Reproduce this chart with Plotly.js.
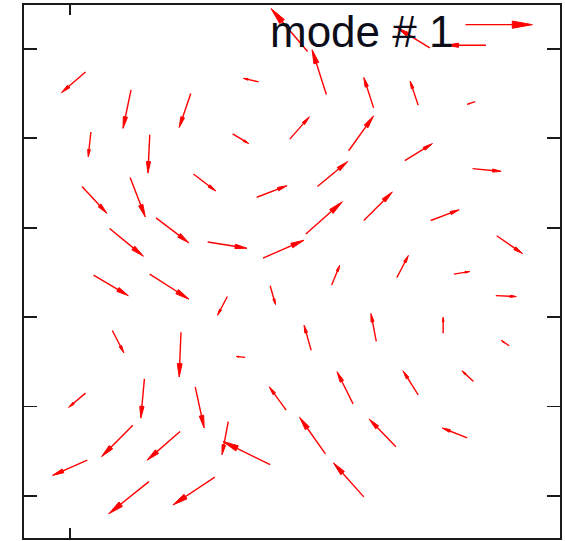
<!DOCTYPE html>
<html>
<head>
<meta charset="utf-8">
<script src="https://cdn.plot.ly/plotly-3.0.1.min.js"></script>
<style>
  html, body { margin: 0; padding: 0; background: #ffffff; }
  #chart { width: 565px; height: 541px; }
</style>
</head>
<body>
<div id="chart"></div>
<script>
// Vector field of mode 1: arrow tails (xs, ys) and components (us, vs)
const xs = [0.17, 0.68, 1.35, 2.11, 2.66, 2.87, 3.40, 3.90, 4.54, 4.03, 4.43, 4.66,
            0.23, 0.89, 1.82, 2.46, 3.12, 3.75, 4.51, 0.13, 0.67, 1.38, 2.09, 2.77,
            3.29, 2.64, 4.04, 4.78, 0.44, 0.96, 1.54, 2.16, 0.26, 0.89, 1.76, 2.24,
            2.93, 3.66, 4.30, 4.77, 0.47, 1.24, 1.96, 2.70, 3.43, 4.18, 4.92, 0.17,
            0.83, 1.40, 2.42, 3.17, 3.90, 4.52, 0.70, 1.23, 1.77, 2.24, 2.86, 3.65,
            4.45, 0.19, 0.88, 1.62, 3.29];
const ys = [4.74, 4.54, 4.50, 4.63, 4.97, 4.49, 4.34, 4.37, 4.41, 5.01, 5.27, 5.04,
            4.07, 4.04, 4.05, 3.99, 3.86, 3.75, 3.66, 3.46, 3.56, 3.60, 3.34, 3.46,
            3.08, 2.93, 3.08, 2.91, 2.99, 3.11, 2.84, 2.66, 2.47, 2.48, 2.23, 2.35,
            2.36, 2.44, 2.48, 2.24, 1.85, 1.83, 1.55, 1.63, 1.73, 1.82, 1.68, 1.15,
            1.31, 1.22, 0.96, 1.03, 1.13, 1.28, 0.79, 0.72, 0.83, 0.35, 0.47, 0.55,
            0.65, 0.40, 0.16, 0.21, -0.01];
const us = [-0.27, -0.09, -0.13, -0.17, -0.41, -0.16, -0.11, -0.09, -0.09, -0.36, 0.75, -0.44,
            -0.03, -0.02, 0.18, 0.22, 0.28, 0.31, 0.32, 0.28, 0.17, 0.25, 0.34, 0.34,
            0.32, 0.41, 0.32, 0.29, 0.38, 0.37, 0.44, 0.46, 0.39, 0.44, -0.11, 0.06,
            0.09, 0.13, 0.18, 0.23, 0.13, -0.02, -0.10, -0.08, -0.06, 0.00, -0.09, -0.19,
            -0.04, 0.10, -0.19, -0.18, -0.17, -0.13, -0.35, -0.37, -0.07, -0.53, -0.29, -0.30,
            -0.28, -0.39, -0.45, -0.47, -0.34];
const vs = [-0.23, -0.43, -0.38, 0.04, 0.48, 0.50, 0.34, 0.27, -0.03, 0.22, 0.00, 0.00,
            -0.28, -0.43, -0.11, 0.25, 0.39, 0.19, -0.03, -0.30, -0.44, -0.19, 0.13, 0.28,
            0.32, 0.36, 0.12, -0.20, -0.31, -0.28, -0.07, 0.20, -0.23, -0.28, -0.21, -0.21,
            0.22, 0.25, 0.03, -0.01, -0.25, -0.50, 0.01, 0.28, 0.31, 0.18, 0.06, -0.16,
            -0.44, -0.46, 0.26, 0.36, 0.27, 0.12, -0.35, -0.32, -0.37, 0.26, 0.41, 0.31,
            0.11, -0.17, -0.36, -0.31, 0.38];

const titleText = 'mode # 1';

// Shafts as line segments, heads as small filled triangles
const headLen = 0.30;   // head length as a fraction of the vector
const headWid = 0.18;   // head half-spread relative to the head length
const sx = [], sy = [], hxArr = [], hyArr = [];
for (let i = 0; i < xs.length; i++) {
  const x0 = xs[i], y0 = ys[i], u = us[i], v = vs[i];
  const hx = x0 + u, hy = y0 + v;
  sx.push(x0, hx - 0.5 * headLen * u, null);
  sy.push(y0, hy - 0.5 * headLen * v, null);
  hxArr.push(hx - headLen * (u + headWid * v), hx, hx - headLen * (u - headWid * v),
             hx - headLen * (u + headWid * v), null);
  hyArr.push(hy - headLen * (v - headWid * u), hy, hy - headLen * (v + headWid * u),
             hy - headLen * (v - headWid * u), null);
}

const shafts = {
  type: 'scatter',
  mode: 'lines',
  x: sx,
  y: sy,
  line: { color: '#ff0000', width: 1.4 },
  connectgaps: false,
  hoverinfo: 'skip',
  showlegend: false
};

const heads = {
  type: 'scatter',
  mode: 'lines',
  x: hxArr,
  y: hyArr,
  fill: 'toself',
  fillcolor: '#ff0000',
  line: { color: '#ff0000', width: 1 },
  connectgaps: false,
  hoverinfo: 'skip',
  showlegend: false
};

const axisCommon = {
  showgrid: false,
  zeroline: false,
  showline: true,
  linecolor: '#1a1a1a',
  linewidth: 1.8,
  mirror: 'ticks',
  ticks: 'inside',
  tickcolor: '#1a1a1a',
  tickwidth: 1.8,
  showticklabels: false,
  tickmode: 'array',
  fixedrange: true
};

const layout = {
  width: 565,
  height: 541,
  margin: { l: 24, r: 5, t: 5, b: 3, pad: 0 },
  paper_bgcolor: '#ffffff',
  plot_bgcolor: '#ffffff',
  xaxis: Object.assign({}, axisCommon, {
    range: [-0.52, 5.49],
    tickvals: [0],
    ticklen: 10
  }),
  yaxis: Object.assign({}, axisCommon, {
    range: [-0.47, 5.49],
    tickvals: [0, 1, 2, 3, 4, 5],
    ticklen: 13
  }),
  annotations: [{
    text: titleText,
    xref: 'paper', yref: 'paper',
    x: 0.630, y: 0.951,
    xanchor: 'center', yanchor: 'middle',
    showarrow: false,
    font: { family: 'Liberation Sans, Arial, sans-serif', size: 44, color: '#0d0d1a' }
  }]
};

Plotly.newPlot('chart', [shafts, heads], layout, { displayModeBar: false, staticPlot: true });
</script>
</body>
</html>
